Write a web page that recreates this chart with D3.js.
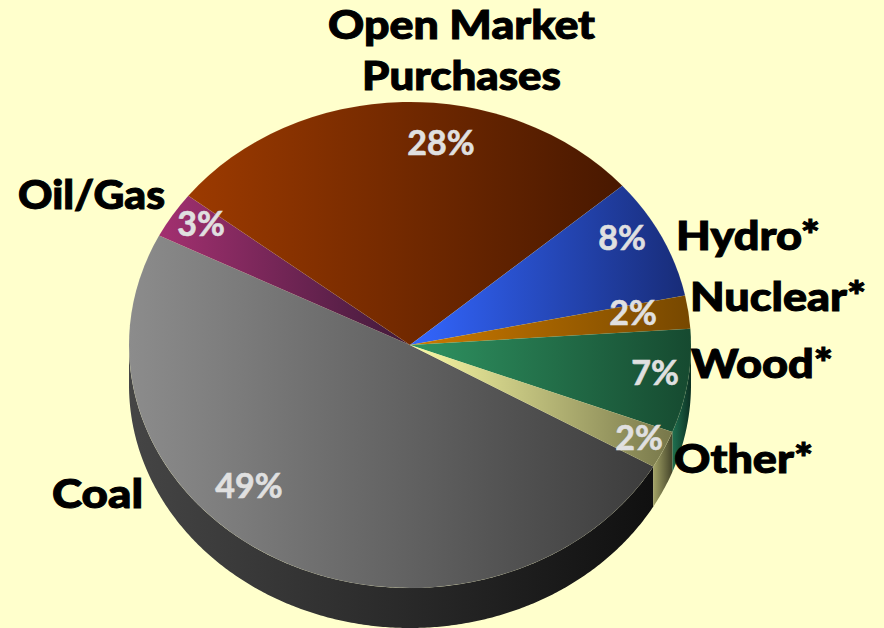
<!DOCTYPE html>
<html>
<head>
<meta charset="utf-8">
<script src="https://cdnjs.cloudflare.com/ajax/libs/d3/7.8.5/d3.min.js"></script>
<style>
html, body { margin: 0; padding: 0; background: #ffffcc; }
svg { display: block; }
text { font-family: Lato, "Open Sans", sans-serif; }
.name { font-weight: 900; font-size: 39px; fill: #000; stroke: #000; stroke-width: 1; }
.pct { font-weight: 700; font-size: 34px; fill: #e0e0e0; stroke: #e0e0e0; stroke-width: 0.6; }
</style>
</head>
<body>
<script>
//chart values, clockwise from the lower right edge of the coal slice
var categories = ["Coal", "Oil/Gas", "Open Market Purchases", "Hydro*", "Nuclear*", "Wood*", "Other*"];
var shares = [49.1, 3.1, 28.1, 8.1, 2.2, 6.9, 2.5]; //read from the slice edges
var pctLabels = ["49%", "3%", "28%", "8%", "2%", "7%", "2%"];

//colours: top gradient left, top gradient right, wall left, wall right
var topLeft = ["#8c8c8c", "#a33070", "#9c3a00", "#3366ff", "#cc7a00", "#2f9462", "#fbfba6"];
var topRight = ["#3c3c3c", "#401a3a", "#481800", "#182c78", "#774800", "#164a30", "#77774a"];
var wallLeft = ["#454545", "#401a3a", "#481800", "#182c78", "#774800", "#1f7050", "#a3a366"];
var wallRight = ["#101010", "#101010", "#101010", "#101010", "#101010", "#0c3022", "#44442a"];

var width = 884,
    height = 628,
    cx = 410,
    cy = 345,
    rx = 281,
    ry = 243,
    depth = 40;

var svg = d3.select("body")
    .append("svg")
    .attr("width", width)
    .attr("height", height);

var defs = svg.append("defs");

function addGradient(id, left, right){
    var g = defs.append("linearGradient").attr("id", id);
    g.append("stop").attr("offset", "0%").attr("stop-color", left);
    g.append("stop").attr("offset", "100%").attr("stop-color", right);
}

categories.forEach(function(c, i){
    addGradient("top" + i, topLeft[i], topRight[i]);
    addGradient("wall" + i, wallLeft[i], wallRight[i]);
});

var rad = Math.PI / 180;

var pie = d3.pie()
    .sort(null)
    .startAngle(120 * rad)
    .endAngle(480 * rad);

var slices = pie(shares);

var arc = d3.arc()
    .innerRadius(0)
    .outerRadius(rx);

//x and y of a point on the rim, angle clockwise from the top
function rimX(a){ return cx + rx * Math.sin(a); }
function rimY(a){ return cy - ry * Math.cos(a); }

var line = d3.line();

//only the front half of the rim has a visible wall
function wallPath(d){
    var shift = d.startAngle >= 2 * Math.PI ? 2 * Math.PI : 0;
    var a0 = Math.max(d.startAngle - shift, 90 * rad),
        a1 = Math.min(d.endAngle - shift, 270 * rad);
    if (a1 <= a0) return null;
    var angles = d3.range(a0, a1, 0.5 * rad).concat([a1]);
    var upper = angles.map(function(a){ return [rimX(a), rimY(a)]; });
    var lower = angles.slice().reverse().map(function(a){ return [rimX(a), rimY(a) + depth]; });
    return line(upper.concat(lower)) + "Z";
}

svg.selectAll(".wall")
    .data(slices)
    .enter()
    .append("path")
    .attr("class", "wall")
    .attr("d", wallPath)
    .style("fill", function(d, i){ return "url(#wall" + i + ")"; });

var topFace = svg.append("g")
    .attr("transform", "translate(" + cx + "," + cy + ") scale(1," + (ry / rx) + ")");

topFace.selectAll(".slice")
    .data(slices)
    .enter()
    .append("path")
    .attr("class", "slice")
    .attr("d", arc)
    .style("fill", function(d, i){ return "url(#top" + i + ")"; })
    .style("stroke", "#d8d8b0")
    .style("stroke-opacity", 0.12)
    .style("stroke-width", 0.5);

//percent labels
var pctX = [249, 201, 441, 622, 633, 655, 639];
var pctY = [498, 236, 155, 250, 325, 385, 450];

svg.selectAll(".pct")
    .data(pctLabels)
    .enter()
    .append("text")
    .attr("class", "pct")
    .attr("text-anchor", "middle")
    .attr("x", function(d, i){ return pctX[i]; })
    .attr("y", function(d, i){ return pctY[i]; })
    .text(function(d){ return d; });

//category labels, the long one is split over two lines
var nameLines = ["Coal", "Oil/Gas", "Open Market", "Purchases", "Hydro*", "Nuclear*", "Wood*", "Other*"];
var nameX = [52, 18, 328, 362, 676, 690, 691, 674];
var nameY = [508, 209, 39, 90, 250, 311, 378, 473];
var nameW = [91, 147, 267, 199, 144, 176, 142, 139];

svg.selectAll(".name")
    .data(nameLines)
    .enter()
    .append("text")
    .attr("class", "name")
    .attr("x", function(d, i){ return nameX[i]; })
    .attr("y", function(d, i){ return nameY[i]; })
    .attr("textLength", function(d, i){ return nameW[i]; })
    .attr("lengthAdjust", "spacingAndGlyphs")
    .text(function(d){ return d; });
</script>
</body>
</html>
